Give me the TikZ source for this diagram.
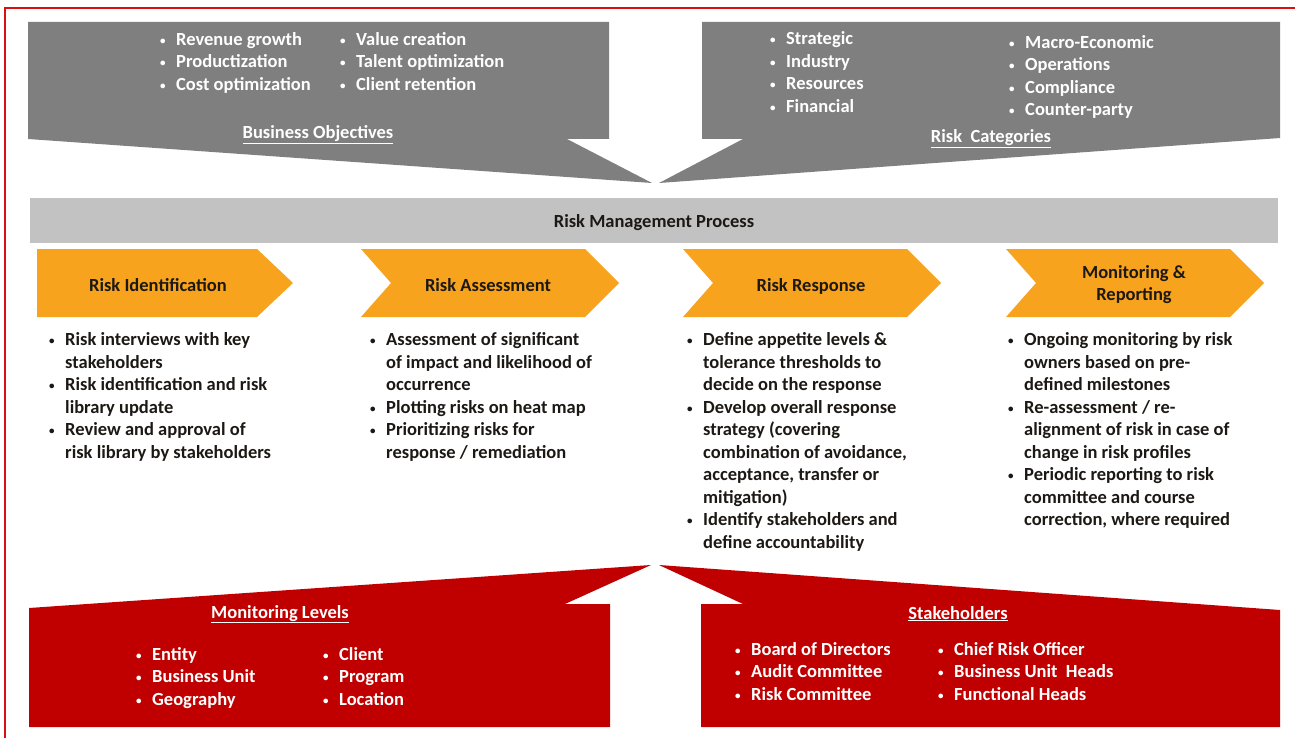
\documentclass[tikz,border=0pt]{standalone}
\usepackage{fontspec}
\setmainfont{Carlito}
\usepackage{tikz}
\definecolor{frameRed}{RGB}{218,16,16}
\definecolor{boxGray}{RGB}{127,127,127}
\definecolor{bandGray}{RGB}{194,194,194}
\definecolor{chevOrange}{RGB}{247,163,30}
\definecolor{boxRed}{RGB}{192,0,0}
\definecolor{ink}{RGB}{28,24,20}
\newcommand{\bul}{\makebox[16pt][l]{\raisebox{1pt}{\fontsize{11}{11}\selectfont\textbullet}}}
\newcommand{\cont}{\hspace*{16pt}}
\tikzset{every node/.style={inner sep=0pt},
  txt/.style={font=\fontsize{18.5}{22.5}\selectfont\bfseries},
  lst/.style={txt, anchor=north west, align=left},
  ttl/.style={txt, anchor=base},
  chev/.style={fill=chevOrange}}

\begin{document}
\begin{tikzpicture}[x=1pt,y=-1pt]
\useasboundingbox (0,0) rectangle (1295,738);
\draw[frameRed,line width=2pt] (5,738) -- (5,8) -- (1295,8);
\fill[boxGray] (28,22) -- (609,22) -- (609,139) -- (567,139) -- (652,183) -- (28,139) -- cycle;
\fill[boxGray] (702,22) -- (1280,22) -- (1280,138) -- (659,183) -- (743,139) -- (702,139) -- cycle;
\fill[bandGray] (30,198) rectangle (1278,243);
\fill[chev] (37,249) -- ++(220,0) -- ++(36,34) -- ++(-36,34) -- ++(-220,0) -- cycle;
\foreach \cx in {361,683,1006}
  \fill[chev] (\cx,249) -- ++(224,0) -- ++(34,34) -- ++(-34,34) -- ++(-224,0) -- ++(30,-34) -- cycle;
\fill[boxRed] (29,727) -- (29,608) -- (651,565) -- (565,604) -- (610,604) -- (610,727) -- cycle;
\fill[boxRed] (701,727) -- (701,604) -- (743,604) -- (659,565) -- (1280,610) -- (1280,727) -- cycle;

\node[lst,white] (objA) at (160,29.25) {\strut\bul Revenue growth\\\bul Productization\\\bul Cost optimization};
\node[lst,white] (objB) at (340,29.25) {\strut\bul Value creation\\\bul Talent optimization\\\bul Client retention};
\node[ttl,white] (obj) at (318,139) {\underline{Business Objectives}};
\node[lst,white] (catA) at (770,28.75) {\strut\bul Strategic\\\bul Industry\\\bul Resources\\\bul Financial};
\node[lst,white] (catB) at (1009,32.25) {\strut\bul Macro-Economic\\\bul Operations\\\bul Compliance\\\bul Counter-party};
\node[ttl,white] (cat) at (991,143) {\underline{Risk\ \ Categories}};

\node[ttl,ink] (rmp) at (654,227) {Risk Management Process};

\node[ttl,ink] (idn) at (158,291) {Risk Identification};
\node[ttl,ink] (ass) at (488,291) {Risk Assessment};
\node[ttl,ink] (rsp) at (811,291) {Risk Response};
\node[txt,ink,anchor=north,align=center] (mon) at (1134,262.25) {\strut Monitoring \&\\Reporting};

\node[lst,ink] (idnList) at (49,329.75) {\strut\bul Risk interviews with key\\\cont stakeholders\\\bul Risk identification and risk\\\cont library update\\\bul Review and approval of\\\cont risk library by stakeholders};
\node[lst,ink] (assList) at (370,329.75) {\strut\bul Assessment of significant\\\cont of impact and likelihood of\\\cont occurrence\\\bul Plotting risks on heat map\\\bul Prioritizing risks for\\\cont response / remediation};
\node[lst,ink] (rspList) at (687,329.75) {\strut\bul Define appetite levels \&\\\cont tolerance thresholds to\\\cont decide on the response\\\bul Develop overall response\\\cont strategy (covering\\\cont combination of avoidance,\\\cont acceptance, transfer or\\\cont mitigation)\\\bul Identify stakeholders and\\\cont define accountability};
\node[lst,ink] (monList) at (1008,329.75) {\strut\bul Ongoing monitoring by risk\\\cont owners based on pre-\\\cont defined milestones\\\bul Re-assessment / re-\\\cont alignment of risk in case of\\\cont change in risk profiles\\\bul Periodic reporting to risk\\\cont committee and course\\\cont correction, where required};

\node[ttl,white] (lvl) at (280,618) {\underline{Monitoring Levels}};
\node[lst,white] (lvlA) at (136,644.25) {\strut\bul Entity\\\bul Business Unit\\\bul Geography};
\node[lst,white] (lvlB) at (323,644.25) {\strut\bul Client\\\bul Program\\\bul Location};
\node[ttl,white] (stk) at (958,619) {\underline{Stakeholders}};
\node[lst,white] (stkA) at (735,639.25) {\strut\bul Board of Directors\\\bul Audit Committee\\\bul Risk Committee};
\node[lst,white] (stkB) at (938,639.25) {\strut\bul Chief Risk Officer\\\bul Business Unit\ \ Heads\\\bul Functional Heads};
\end{tikzpicture}
\end{document}
